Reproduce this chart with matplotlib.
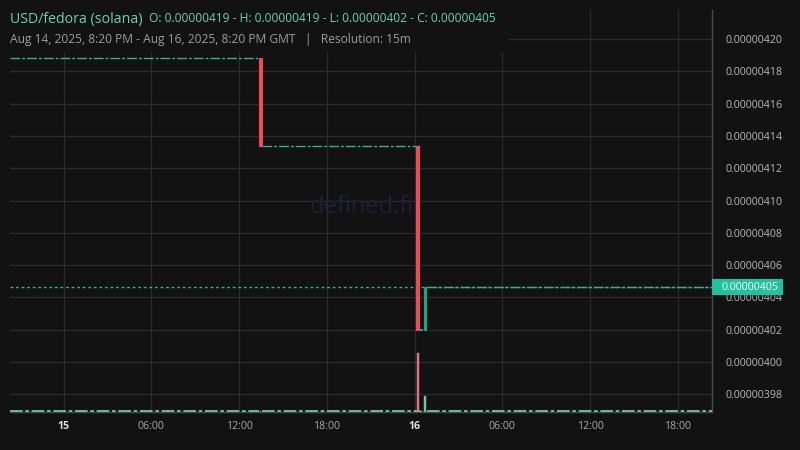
import matplotlib
matplotlib.use("Agg")
import matplotlib.pyplot as plt
import matplotlib.dates as mdates
import matplotlib.ticker as mticker
from matplotlib.patches import Rectangle
import pandas as pd
import numpy as np

plt.rcParams['font.family'] = ['Open Sans', 'DejaVu Sans']

# ---------------- data ----------------
range_start = "2025-08-14 20:20"
range_end = "2025-08-16 20:20"
bar_minutes = 15

# candles that move (bar start times)
candle_times = ["2025-08-15 13:20", "2025-08-16 00:05", "2025-08-16 00:20", "2025-08-16 00:35"]
candle_open = [4.188e-6, 4.134e-6, 4.020e-6, 4.020e-6]
candle_high = [4.188e-6, 4.134e-6, 4.020e-6, 4.0464e-6]
candle_low = [4.134e-6, 4.020e-6, 4.020e-6, 4.020e-6]
candle_close = [4.134e-6, 4.020e-6, 4.020e-6, 4.0464e-6]
candle_volume = [12.0, 590.0, 10.0, 155.0]

# runs of unchanged (flat) bars: start bar, last bar, price
flat_start = ["2025-08-14 20:20", "2025-08-15 13:35", "2025-08-16 00:50"]
flat_end = ["2025-08-15 13:05", "2025-08-16 00:05", "2025-08-16 20:05"]
flat_price = [4.188e-6, 4.134e-6, 4.0464e-6]
flat_volume = [6.0, 6.0, 6.0]

ytick_values = [3.98e-6, 4.00e-6, 4.02e-6, 4.04e-6, 4.06e-6, 4.08e-6, 4.10e-6,
                4.12e-6, 4.14e-6, 4.16e-6, 4.18e-6, 4.20e-6]

# ---------------- style ----------------
BG = "#121212"
GRID = "#2c2c2c"
RED = "#f04a5a"
GREEN = "#17a689"
TEAL_LINE = "#28b39a"
VOL_RED = "#e8707f"
VOL_GREEN = "#6bc9a9"
TAG = "#1fc39c"

fig = plt.figure(figsize=(8, 4.5), dpi=100, facecolor=BG)
ax = fig.add_axes([10/800, 38/450, 702/800, 402/450])
ax.set_facecolor(BG)

bar_days = bar_minutes / 1440.0
half = bar_days / 2

def num(t):
    return mdates.date2num(pd.Timestamp(t))

ct = np.array([num(t) for t in candle_times]) + half
o = np.array(candle_open); c = np.array(candle_close)
h = np.array(candle_high); l = np.array(candle_low)
cols = [GREEN if cc > oo else RED for oo, cc in zip(o, c)]

# volume axis (overlay at bottom)
vax = ax.twinx()
vax.set_zorder(ax.get_zorder() + 1)
vax.patch.set_visible(False)

dash = (0, (7, 1.5, 2, 1.5))
# flat runs
for s, e, p, v in zip(flat_start, flat_end, flat_price, flat_volume):
    x0 = num(s); x1 = num(e) + bar_days
    ax.hlines(p, x0, x1, colors=TEAL_LINE, linewidth=1.0, linestyles=dash, zorder=3)
    vax.hlines(v, x0, x1, colors=VOL_GREEN, linewidth=1.3, linestyles=dash,
               zorder=3, clip_on=False)

# candles
for x, oo, cc, hh, ll, col in zip(ct, o, c, h, l, cols):
    if abs(cc - oo) < 1e-12:
        ax.hlines(cc, x - half, x + half, colors=GREEN, linewidth=1.5, zorder=4)
    else:
        ax.bar(x, abs(cc - oo), bottom=min(oo, cc), width=bar_days * 0.7,
               color=col, edgecolor=col, linewidth=0.8, zorder=4)
        ax.vlines(x, ll, hh, colors=col, linewidth=1, zorder=4)

# volume bars
vcols = [VOL_GREEN if cc >= oo else VOL_RED for oo, cc in zip(o, c)]
vax.bar(ct, candle_volume, width=bar_days * 0.5, color=vcols, edgecolor=vcols,
        linewidth=0.3, zorder=4)
vax.set_ylim(0, max(candle_volume) * 6.78)
vax.set_yticks([])
for sp in vax.spines.values():
    sp.set_visible(False)

# last price line
last = candle_close[-1]
ax.axhline(last, color=TEAL_LINE, linewidth=1.0, linestyle=(0, (2, 2)), zorder=2)

# axes limits & scales
ax.set_xlim(num(range_start), num(range_end))
ax.set_ylim(3.969e-6, 4.218e-6)

ax.yaxis.tick_right()
ax.set_yticks(ytick_values)
ax.yaxis.set_major_formatter(mticker.FuncFormatter(lambda v, p: f"{v:.8f}"))
ax.tick_params(axis='y', length=0, pad=10, labelsize=7.7, labelcolor="#b8b8b8")

# x ticks: every 6 hours
xt = pd.date_range("2025-08-15 00:00", "2025-08-16 18:00", freq="6h")
ax.set_xticks([num(t) for t in xt])
labels = [str(t.day) if t.hour == 0 else t.strftime("%H:%M") for t in xt]
ax.set_xticklabels(labels)
ax.tick_params(axis='x', length=0, pad=6.5, labelsize=7.7, labelcolor="#a8a8a8")
for lab, t in zip(ax.get_xticklabels(), xt):
    if t.hour == 0:
        lab.set_fontweight("bold")
        lab.set_color("#e0e0e0")

ax.grid(True, color=GRID, linewidth=0.9, zorder=0)
ax.set_axisbelow(True)
for side in ["top", "left"]:
    ax.spines[side].set_visible(False)
ax.spines["right"].set_color("#4a4a4a")
ax.spines["bottom"].set_color("#4a4a4a")
ax.spines["right"].set_linewidth(1)
ax.spines["bottom"].set_linewidth(1)

# watermark
ax.text(0.5007, 0.51, "defined.fi", transform=ax.transAxes, ha="center", va="center",
        fontsize=17, color="#1f1f38", zorder=1)

# price tag on right axis
ymin, ymax = ax.get_ylim()
px_per_unit = 402 / (ymax - ymin)
tag_h = 16 / px_per_unit
ax.add_patch(Rectangle((1.0, last - tag_h / 2), 71 / 702, tag_h,
                       transform=ax.get_yaxis_transform(), facecolor=TAG,
                       edgecolor="none", clip_on=False, zorder=10))
ax.text(1.0 + 10 / 702, last, f"{last:.8f}", transform=ax.get_yaxis_transform(),
        ha="left", va="center", fontsize=7.7, color="white", zorder=11, clip_on=False)

# header background box and texts
fig.patches.append(Rectangle((0, 1 - 53 / 450), 509 / 800, 53 / 450,
                             transform=fig.transFigure, facecolor=BG,
                             edgecolor="none", zorder=5))
fig.text(10 / 800, 1 - 19 / 450, "USD/fedora (solana)", fontsize=10.2,
         color="#66d1b0", va="center", ha="left", zorder=6)
O = candle_open[0]; H = max(candle_high); L = min(candle_low); C = candle_close[-1]
fig.text(149 / 800, 1 - 19 / 450,
         f"O: {O:.8f} - H: {H:.8f} - L: {L:.8f} - C: {C:.8f}",
         fontsize=8.65, color="#66d1b0", va="center", ha="left", zorder=6)
fig.text(10 / 800, 1 - 40 / 450,
         "Aug 14, 2025, 8:20 PM - Aug 16, 2025, 8:20 PM GMT   |   Resolution: 15m",
         fontsize=8.65, color="#9c9c9c", va="center", ha="left", zorder=6)

fig.savefig("out.png", dpi=100, facecolor=BG)
